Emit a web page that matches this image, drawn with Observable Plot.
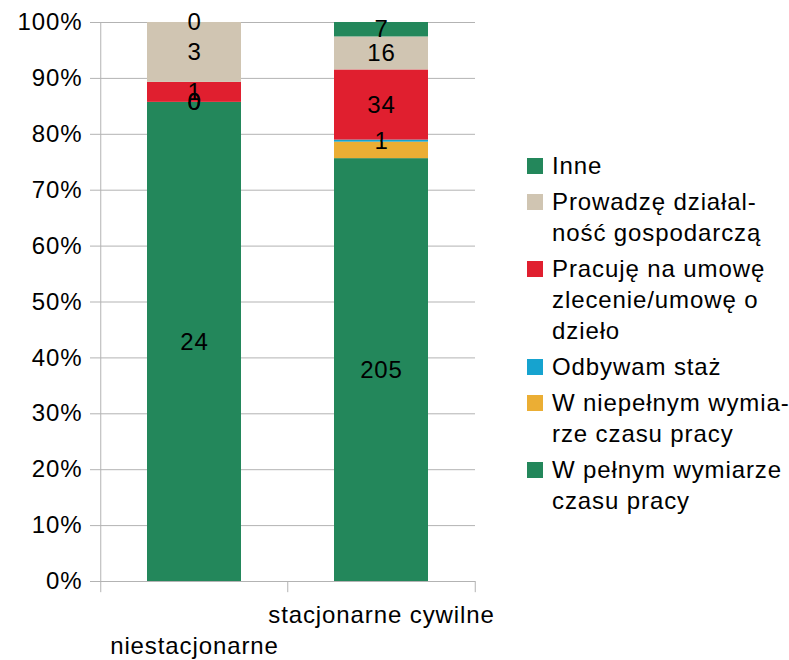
<!DOCTYPE html>
<html>
<head>
<meta charset="utf-8">
<script src="https://cdn.jsdelivr.net/npm/d3@7"></script>
<script src="https://cdn.jsdelivr.net/npm/@observablehq/plot@0.6"></script>
<style>
  html, body { margin: 0; padding: 0; background: #fff; }
  #wrap { position: relative; width: 789px; height: 660px; font-family: "Liberation Sans", Arial, sans-serif; }
  #legend { position: absolute; left: 527px; top: 150px; display: flex; flex-direction: column; gap: 5px; font-size: 24px; letter-spacing: 0.9px; line-height: 31px; color: #000; white-space: nowrap; }
  .item { display: flex; align-items: flex-start; }
  .sw { width: 16px; height: 16px; margin-top: 8px; margin-right: 9px; flex: none; }
</style>
</head>
<body>
<div id="wrap"><div id="legend"></div></div>
<script>
const categories = ["niestacjonarne", "stacjonarne cywilne"];
const series = [
  "W pełnym wymiarze czasu pracy",
  "W niepełnym wymiarze czasu pracy",
  "Odbywam staż",
  "Pracuję na umowę zlecenie/umowę o dzieło",
  "Prowadzę działalność gospodarczą",
  "Inne"
];
const valuesNiestacjonarne = [24, 0, 0, 1, 3, 0];
const valuesStacjonarneCywilne = [205, 8, 1, 34, 16, 7];
const colors = ["#23875b", "#ebae34", "#16a3cf", "#e01f2f", "#d0c5b2", "#23875b"];
const legendOrder = ["Inne", "Prowadzę działalność gospodarczą", "Pracuję na umowę zlecenie/umowę o dzieło", "Odbywam staż", "W niepełnym wymiarze czasu pracy", "W pełnym wymiarze czasu pracy"];
const legendLines = [
  ["Inne"],
  ["Prowadzę działal-", "ność gospodarczą"],
  ["Pracuję na umowę", "zlecenie/umowę o", "dzieło"],
  ["Odbywam staż"],
  ["W niepełnym wymia-", "rze czasu pracy"],
  ["W pełnym wymiarze", "czasu pracy"]
];
const yTicks = [0, 0.1, 0.2, 0.3, 0.4, 0.5, 0.6, 0.7, 0.8, 0.9, 1];
// labels not shown in the original chart: [category, series]
const hiddenLabels = [["stacjonarne cywilne", "W niepełnym wymiarze czasu pracy"]];

const valuesByCategory = [valuesNiestacjonarne, valuesStacjonarneCywilne];
const rows = [];
categories.forEach((c, ci) => series.forEach((s, si) => rows.push({category: c, series: s, value: valuesByCategory[ci][si]})));
const isHidden = d => hiddenLabels.some(([c, s]) => c === d.category && s === d.series);

const W = 789, H = 660, mL = 100, mR = 314, mT = 22, mB = 79;
const half = (W - mL - mR) / categories.length / 2;
const gray = "#b3b3b3";

const chart = Plot.plot({
  width: W, height: H,
  marginLeft: mL, marginRight: mR, marginTop: mT, marginBottom: mB,
  style: {fontFamily: "'Liberation Sans', Arial, sans-serif", fontSize: "24px", letterSpacing: "0.9px", color: "#000", background: "transparent", overflow: "visible"},
  x: {domain: categories, paddingInner: 0.5, paddingOuter: 0.25, axis: null},
  y: {domain: [0, 1], axis: null},
  color: {domain: series, range: colors},
  marks: [
    Plot.gridY(yTicks, {stroke: gray, strokeOpacity: 1}),
    Plot.barY(rows, Plot.stackY({offset: "normalize", x: "category", y: "value", z: "series", fill: "series"})),
    Plot.ruleY([0], {stroke: gray}),
    Plot.ruleX(categories, {x: d => d, y1: -0.02, y2: 1, dx: -half, stroke: gray, filter: (d, i) => i === 0}),
    Plot.ruleX(categories, {x: d => d, y1: -0.02, y2: 0, dx: -half, stroke: gray, filter: (d, i) => i > 0}),
    Plot.ruleX(categories, {x: d => d, y1: -0.02, y2: 0, dx: half, stroke: gray, filter: (d, i) => i === categories.length - 1}),
    Plot.axisY(yTicks, {tickFormat: d3.format(".0%"), tickSize: 10, tickPadding: 8, stroke: gray, fill: "#000", fontSize: 24, label: null}),
    Plot.axisX([categories[1]], {tickSize: 0, tickPadding: 0, dy: 24, fill: "#000", fontSize: 24, label: null}),
    Plot.axisX([categories[0]], {tickSize: 0, tickPadding: 0, dy: 55, fill: "#000", fontSize: 24, label: null}),
    Plot.text(rows, Plot.stackY({offset: "normalize", x: "category", y: "value", z: "series", text: d => isHidden(d) ? null : String(d.value), fill: "#000", fontSize: 24}))
  ]
});
document.getElementById("wrap").prepend(chart);

const legend = document.getElementById("legend");
legendOrder.forEach((name, i) => {
  const item = document.createElement("div");
  item.className = "item";
  const sw = document.createElement("div");
  sw.className = "sw";
  sw.style.background = colors[series.indexOf(name)];
  const label = document.createElement("div");
  label.innerHTML = legendLines[i].join("<br>");
  item.append(sw, label);
  legend.append(item);
});
</script>
</body>
</html>
